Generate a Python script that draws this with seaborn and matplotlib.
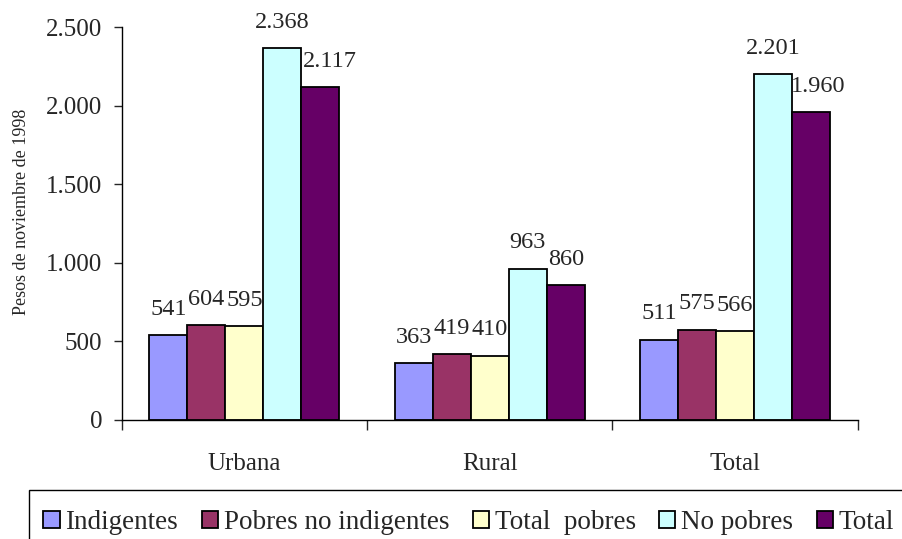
import pandas as pd
import numpy as np
import seaborn as sns
import matplotlib.pyplot as plt
from matplotlib.patches import Rectangle
from matplotlib.ticker import FuncFormatter

# data
areas = ['Urbana', 'Rural', 'Total']
series = ['Indigentes', 'Pobres no indigentes', 'Total  pobres', 'No pobres', 'Total']
indigentes = [541, 363, 511]
pobres_no_indigentes = [604, 419, 575]
total_pobres = [595, 410, 566]
no_pobres = [2368, 963, 2201]
total = [2117, 860, 1960]

values = [indigentes, pobres_no_indigentes, total_pobres, no_pobres, total]
rows = []
for s, vals in zip(series, values):
    for a, v in zip(areas, vals):
        rows.append({'Area': a, 'Serie': s, 'Valor': v})
df = pd.DataFrame(rows)

colors = ['#9999FF', '#993366', '#FFFFCC', '#CCFFFF', '#660066']
palette = dict(zip(series, colors))

sns.set_style('white')
plt.rcParams['font.family'] = ['Liberation Serif', 'DejaVu Serif']

fig = plt.figure(figsize=(9.03, 5.39), dpi=100)
ax = fig.add_axes([0.1348, 0.2208, 0.815, 0.729])

sns.barplot(data=df, x='Area', y='Valor', hue='Serie', order=areas,
            hue_order=series, palette=palette, saturation=1, width=0.775,
            edgecolor='black', linewidth=1.3, ax=ax, errorbar=None)

fmt = lambda v: f'{int(round(v)):,}'.replace(',', '.')

# Excel nudges a couple of labels sideways to avoid overlap
nudge = {('Total', 0): 7, ('Total', 2): 5}
for si, cont in enumerate(ax.containers):
    for ai, bar in enumerate(cont):
        h = bar.get_height()
        dx = nudge.get((series[si], ai), 0)
        ax.annotate(fmt(h), (bar.get_x() + bar.get_width() / 2, h),
                    xytext=(dx, 11), textcoords='offset points',
                    ha='center', va='bottom', fontsize=17.5)

ax.set_xlim(-0.5, 2.5)
ax.set_ylim(0, 2500)
ax.set_yticks(np.arange(0, 2501, 500))
ax.yaxis.set_major_formatter(FuncFormatter(lambda v, p: fmt(v)))
ax.tick_params(axis='y', direction='out', length=6, width=1, pad=8,
               labelsize=18, left=True)
ax.tick_params(axis='x', which='major', length=0, pad=23.5, labelsize=18)
ax.set_xticks([-0.5, 0.5, 1.5, 2.5], minor=True)
ax.tick_params(axis='x', which='minor', direction='out', length=7, width=1,
               bottom=True)

ax.set_xlabel('')
ax.set_ylabel('Pesos de noviembre de 1998', fontsize=13)
ax.yaxis.set_label_coords(-0.125, 0.529)

for side in ['top', 'right']:
    ax.spines[side].set_visible(False)
for side in ['left', 'bottom']:
    ax.spines[side].set_color('black')
    ax.spines[side].set_linewidth(1)

handles, labels = ax.get_legend_handles_labels()
ax.get_legend().remove()
leg = fig.legend(handles, labels, loc='upper left',
                 bbox_to_anchor=(23 / 903, 1 - 490 / 539), ncol=5,
                 fontsize=19.5, frameon=False,
                 handlelength=0.6, handleheight=0.6,
                 handletextpad=0.22, columnspacing=0.86, borderpad=0.75,
                 borderaxespad=0)

# legend box runs off the right and bottom edges, as in the original
fig.patches.append(Rectangle((29 / 903, -0.05), 1.0, 1 - 490 / 539 + 0.05,
                             transform=fig.transFigure, fill=False,
                             edgecolor='black', linewidth=1))

plt.savefig('out.png', dpi=100)
